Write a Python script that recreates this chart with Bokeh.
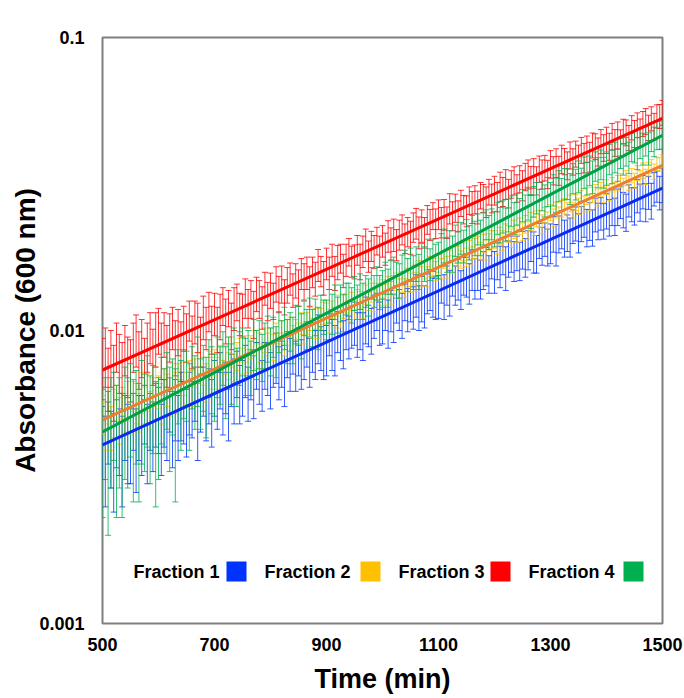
import numpy as np
from bokeh.plotting import figure
from bokeh.models import (ColumnDataSource, Whisker, TeeHead, FixedTicker,
                          CustomJSTickFormatter, Label, BoxAnnotation)
from bokeh.embed import file_html
from bokeh.resources import INLINE

# ---------------- data (absorbance values in units of 1e-4) ----------------
times = list(range(500, 1505, 5))  # sampling every 5 min
UNIT = 1e-4

labels = ["Fraction 1", "Fraction 2", "Fraction 3", "Fraction 4"]

f1_val = [43,38,46,41,38,46,43,38,48,43,
          42,50,41,48,46,53,43,50,45,53,
          51,44,54,49,57,48,55,48,57,54,
          50,58,55,62,51,58,63,56,61,54,
          65,59,69,58,65,57,69,64,72,62,
          65,74,62,72,66,77,71,66,77,75,
          69,78,82,73,78,72,84,78,85,77,
          86,78,85,91,79,89,84,95,88,84,
          87,98,91,87,100,97,91,105,96,104,
          107,98,105,97,110,105,101,113,117,107,
          109,118,107,118,112,124,119,114,126,119,
          128,121,133,121,130,122,135,139,131,130,
          132,145,132,144,136,152,144,151,139,155,
          154,146,162,152,163,151,162,167,157,174,
          160,174,167,181,165,177,184,174,185,174,
          190,179,190,200,187,184,204,196,206,194,
          200,215,198,215,223,208,217,210,228,233,
          217,233,242,226,238,226,250,238,252,238,
          258,245,265,247,266,276,260,255,279,271,
          268,290,276,299,276,297,279,306,312,297,
          315]
f1_err = [12,13,11,12,14,12,11,13,12,13,
          12,11,13,12,14,12,13,11,12,13,
          13,12,14,13,12,14,13,12,15,13,
          13,14,12,13,15,13,12,14,13,14,
          14,13,15,14,13,15,14,16,13,14,
          14,15,13,14,16,14,15,13,14,15,
          15,14,16,15,14,17,15,16,14,15,
          16,15,17,16,15,17,16,18,15,16,
          17,16,18,17,16,18,17,19,16,17,
          18,17,19,18,20,17,18,19,17,18,
          19,18,20,19,21,18,19,20,18,20,
          21,20,22,21,23,20,21,22,20,21,
          22,21,23,22,24,21,22,24,21,23,
          24,23,25,24,26,23,24,25,23,24,
          26,25,27,26,28,25,26,27,25,26,
          28,27,29,28,30,27,28,29,27,28,
          31,30,32,31,33,30,31,32,30,31,
          33,32,34,33,35,32,33,34,32,33,
          36,35,37,36,38,35,36,37,35,36,
          39,38,40,39,41,38,39,40,38,39,
          42]

f2_val = [52,48,55,47,53,57,50,57,53,58,
          52,60,57,53,62,56,62,54,62,66,
          62,57,67,63,60,69,62,69,61,69,
          64,72,64,72,75,68,73,67,77,72,
          78,72,81,72,80,76,85,75,82,86,
          79,87,79,88,91,82,88,82,93,90,
          94,88,98,91,99,90,99,103,95,101,
          98,106,98,106,110,102,110,102,110,115,
          115,108,118,111,122,111,121,124,117,126,
          118,128,127,121,133,126,135,127,136,132,
          139,133,143,135,143,147,139,147,140,152,
          146,155,147,160,153,161,153,166,165,160,
          170,163,175,165,175,168,182,180,175,186,
          178,189,180,191,195,187,199,189,201,205,
          205,197,211,203,216,214,207,222,214,227,
          218,231,220,236,227,241,241,231,248,238,
          253,243,258,246,261,266,256,272,258,274,
          266,282,271,288,274,291,297,285,303,291,
          309,297,315,300,319,325,312,332,319,338,
          325,345,332,352,335,356,363,349,370,370,
          378]
f2_err = [8,9,7,8,10,8,9,7,8,9,
          8,7,9,8,10,8,9,8,7,9,
          8,9,7,8,9,8,10,8,7,9,
          8,7,9,8,9,7,8,10,8,9,
          8,9,8,7,9,8,10,8,9,8,
          8,9,7,8,9,8,10,8,9,8,
          8,9,8,7,9,8,10,8,9,8,
          8,9,8,9,10,8,9,8,9,10,
          9,10,8,9,10,9,11,9,10,9,
          9,10,9,11,10,9,10,11,9,10,
          10,11,10,12,11,10,11,12,10,11,
          11,12,11,13,12,11,12,13,11,12,
          12,13,12,14,13,12,13,14,12,13,
          13,14,13,15,14,13,14,15,13,14,
          14,15,14,16,15,14,15,16,14,15,
          15,16,15,17,16,15,16,17,15,16,
          16,17,16,18,17,16,17,18,16,17,
          17,18,17,19,18,17,18,19,17,18,
          18,19,18,20,19,18,19,20,18,19,
          19,20,19,21,20,19,20,21,19,20,
          20]

f3_val = [76,83,70,82,69,89,79,72,87,77,
          75,89,94,81,89,76,89,96,83,95,
          101,87,98,84,96,103,89,100,87,103,
          96,109,93,108,104,93,112,103,117,102,
          115,102,113,122,109,120,105,120,126,115,
          114,130,120,129,115,134,129,121,140,127,
          138,127,145,134,145,131,144,151,138,149,
          141,157,148,158,143,159,151,168,160,152,
          170,158,175,158,172,177,161,175,186,173,
          173,189,173,187,197,180,195,187,203,187,
          203,191,211,199,213,197,213,222,207,218,
          209,226,233,217,229,217,240,231,247,233,
          250,235,250,235,262,247,263,247,273,260,
          257,279,265,281,265,290,284,276,298,284,
          302,287,311,299,317,295,317,326,307,330,
          314,336,343,326,346,326,357,343,360,343,
          371,353,375,353,386,379,367,398,378,402,
          386,414,390,418,393,430,426,409,443,422,
          448,426,461,439,466,439,480,475,456,494,
          471,504,475,509,519,494,530,499,540,540,
          556]
f3_err = [18,19,17,18,20,17,18,19,17,18,
          18,17,19,18,20,18,17,19,18,20,
          18,19,17,20,18,17,19,18,20,18,
          18,17,19,18,20,18,19,17,18,19,
          19,18,20,18,19,17,19,20,18,19,
          19,20,18,19,21,18,19,20,18,19,
          19,18,20,19,21,18,20,19,18,20,
          20,19,21,20,22,19,20,21,19,20,
          21,20,22,21,23,20,21,22,20,21,
          23,22,24,23,25,22,23,24,22,23,
          25,24,26,25,27,24,25,26,24,25,
          27,26,28,27,29,26,27,28,26,27,
          29,28,30,29,31,28,29,30,28,29,
          31,30,33,31,34,30,31,33,30,32,
          34,33,36,34,37,33,34,36,33,35,
          37,36,39,37,40,36,37,39,36,38,
          40,39,42,40,43,39,40,42,39,41,
          43,42,45,43,46,42,43,45,42,44,
          46,45,48,46,49,45,46,48,45,47,
          50,49,52,50,53,49,50,52,49,51,
          54]

f4_val = [43,50,41,49,54,44,49,42,53,49,
          57,47,54,46,57,52,61,50,57,46,
          50,61,56,65,54,62,50,67,59,68,
          67,58,71,64,75,63,71,62,76,70,
          66,77,72,82,69,79,73,84,71,82,
          86,77,85,76,91,84,91,82,90,95,
          86,96,86,100,93,103,93,100,94,106,
          105,97,111,102,112,103,112,103,116,112,
          110,122,115,126,114,125,116,129,127,123,
          135,126,137,127,137,131,146,137,146,136,
          140,152,141,153,159,150,149,162,167,156,
          169,159,170,160,177,170,183,169,182,175,
          175,190,196,183,195,184,204,194,208,195,
          211,201,218,208,223,209,224,231,218,232,
          224,243,231,246,232,249,257,243,261,251,
          269,257,273,257,277,285,269,289,279,299,
          282,303,292,313,293,318,318,306,332,317,
          337,317,348,332,353,336,365,348,370,348,
          360,386,365,392,369,405,386,410,391,424,
          425,405,439,419,445,420,460,443,467,467,
          473]
f4_err = [20,19,21,20,18,21,20,19,22,20,
          20,21,19,20,22,19,21,20,19,21,
          19,20,18,19,21,18,24,19,20,18,
          18,19,17,18,20,17,18,19,17,18,
          17,18,16,17,19,16,17,18,16,17,
          16,17,15,16,18,16,17,15,16,17,
          16,15,17,16,15,17,16,15,17,16,
          16,17,15,16,17,15,16,17,16,15,
          17,16,18,17,16,18,17,16,18,17,
          18,17,19,18,17,19,18,17,19,18,
          20,19,21,20,19,21,20,19,21,20,
          22,21,23,22,21,23,22,21,23,22,
          25,24,26,25,24,26,25,24,26,25,
          28,27,29,28,27,29,28,27,29,28,
          31,30,32,31,30,32,31,30,32,31,
          34,33,35,34,33,35,34,33,35,34,
          38,37,39,38,37,39,38,37,39,38,
          42,41,43,42,41,43,42,41,43,42,
          47,46,48,47,46,48,47,46,48,47,
          52,51,53,52,51,53,52,51,53,52,
          57]

# exponential trend lines (start at 500 min, end at 1500 min)
trend_x = [500, 1500]
trend_start = [0.00407, 0.00495, 0.00733, 0.00451]
trend_end = [0.0306, 0.0366, 0.0530, 0.0464]

x_ticks = [500, 700, 900, 1100, 1300, 1500]
y_ticks = [0.001, 0.01, 0.1]

# ---------------- styling ----------------
bar_colors = ["#0033FF", "#FFC000", "#FF0000", "#00B050"]
line_colors = ["#0A2AF0", "#EE7D31", "#FF0000", "#00A044"]
FONT = "Liberation Sans"

p = figure(width=684, height=698, y_axis_type="log",
           x_range=(500, 1500), y_range=(0.001, 0.1),
           output_backend="svg", toolbar_location=None,
           min_border_left=102, min_border_right=22,
           min_border_top=37, min_border_bottom=75)
p.background_fill_color = "white"
p.border_fill_color = "white"
p.grid.visible = False
p.outline_line_color = "#7F7F7F"
p.outline_line_width = 2

vals = [f1_val, f2_val, f3_val, f4_val]
errs = [f1_err, f2_err, f3_err, f4_err]

for v, e, c in zip(vals, errs, bar_colors):
    va = np.array(v) * UNIT
    ea = np.array(e) * UNIT
    src = ColumnDataSource(dict(t=times, up=va + ea, lo=va - ea))
    w = Whisker(base="t", upper="up", lower="lo", source=src, dimension="height",
                line_color=c, line_alpha=0.8, line_width=1,
                upper_head=TeeHead(size=6, line_color=c, line_alpha=0.8, line_width=1),
                lower_head=TeeHead(size=6, line_color=c, line_alpha=0.8, line_width=1))
    p.add_layout(w)

for s, en, c in zip(trend_start, trend_end, line_colors):
    p.line(trend_x, [s, en], line_color=c, line_width=3)

# axes
p.xaxis.ticker = FixedTicker(ticks=x_ticks, minor_ticks=[])
p.yaxis.ticker = FixedTicker(ticks=y_ticks, minor_ticks=[])
p.yaxis.formatter = CustomJSTickFormatter(code="return tick.toString();")
for ax in (p.xaxis, p.yaxis):
    ax.axis_line_color = None
    ax.major_tick_line_color = None
    ax.minor_tick_line_color = None
    ax.major_label_text_font = FONT
    ax.major_label_text_font_style = "bold"
    ax.major_label_text_font_size = "18px"
    ax.major_label_text_color = "black"
    ax.axis_label_text_font = FONT
    ax.axis_label_text_font_style = "bold"
    ax.axis_label_text_color = "black"
p.yaxis.major_label_standoff = 12
p.xaxis.major_label_standoff = 8

p.xaxis.axis_label = "Time (min)"
p.xaxis.axis_label_text_font_size = "27px"
p.xaxis.axis_label_standoff = 10
p.yaxis.axis_label = "Absorbance (600 nm)"
p.yaxis.axis_label_text_font_size = "28px"
p.yaxis.axis_label_standoff = -5

# layout helpers: convert pixel positions (relative to the frame) to data coordinates
FR_L, FR_R, FR_T, FR_B = 102, 662, 37, 623


def px_t(px):
    return 500 + (px - FR_L) / (FR_R - FR_L) * 1000


def py_v(py):
    return 10 ** (-3 + 2 * (FR_B - py) / (FR_B - FR_T))


# legend: label text followed by a coloured square
leg_text_x = [133, 264, 398, 528]
leg_box_x = [226, 360, 490, 623]
for name, tx, bx, c in zip(labels, leg_text_x, leg_box_x, bar_colors):
    p.add_layout(Label(x=px_t(tx), y=py_v(571), text=name,
                       text_align="left", text_baseline="middle",
                       text_font=FONT, text_font_style="bold", text_font_size="18px",
                       text_color="black"))
    p.add_layout(BoxAnnotation(left=px_t(bx), right=px_t(bx + 20),
                               bottom=py_v(581), top=py_v(561),
                               fill_color=c, fill_alpha=1.0, line_color=None,
                               level="overlay"))

open("out.html", "w").write(file_html(p, INLINE))
